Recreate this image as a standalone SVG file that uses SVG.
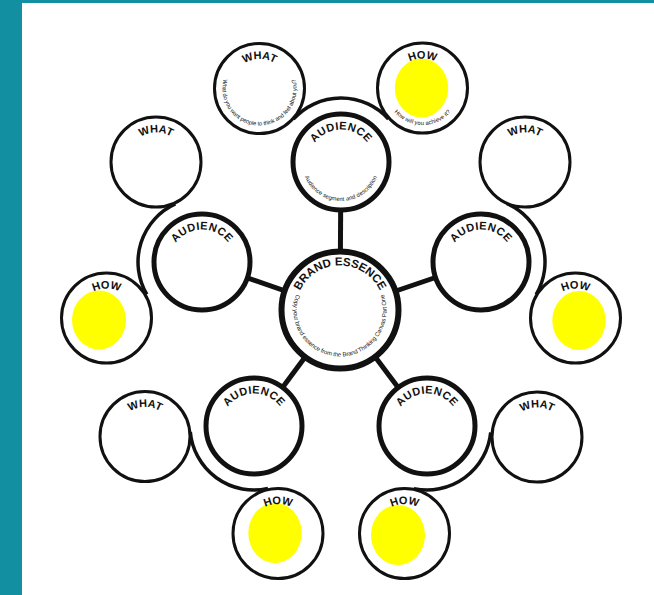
<svg xmlns="http://www.w3.org/2000/svg" width="654" height="595" viewBox="0 0 654 595">
<style>
.bg{fill:#ffffff}
.teal{fill:#128fa1}
.ring{fill:none;stroke:#111;stroke-width:3.5}
.conn{stroke:#111;stroke-width:5;stroke-linecap:butt}
.center{fill:#fff;stroke:#111;stroke-width:6}
.aud{fill:#fff;stroke:#111;stroke-width:5}
.sat{fill:#fff;stroke:#111;stroke-width:3}
.yel{fill:#ffff00}
.hd{font-family:"Liberation Sans",Arial,sans-serif;font-weight:bold;fill:#111}
.h11{font-size:11px}
.aud-h{font-size:11px;letter-spacing:0.5px}
.be-h{font-size:11.5px}
.sub{font-family:"Liberation Sans",Arial,sans-serif;fill:#111;font-size:5.8px}
</style>
<defs>
<path id="p-be-h" d="M340,354.5 A44.5,44.5 0 1 1 340,265.5 A44.5,44.5 0 1 1 340,354.5"/>
<path id="p-be-s" d="M340,263.5 A46.5,46.5 0 1 0 340,356.5 A46.5,46.5 0 1 0 340,263.5"/>
<path id="p-a1-h" d="M341,194.5 A32.5,32.5 0 1 1 341,129.5 A32.5,32.5 0 1 1 341,194.5"/>
<path id="p-a1-s" d="M341,123 A39,39 0 1 0 341,201 A39,39 0 1 0 341,123"/>
<path id="p-a2-h" d="M202,294.5 A32.5,32.5 0 1 1 202,229.5 A32.5,32.5 0 1 1 202,294.5"/>
<path id="p-a3-h" d="M481,294.5 A32.5,32.5 0 1 1 481,229.5 A32.5,32.5 0 1 1 481,294.5"/>
<path id="p-a4-h" d="M254,458.5 A32.5,32.5 0 1 1 254,393.5 A32.5,32.5 0 1 1 254,458.5"/>
<path id="p-a5-h" d="M427,458.5 A32.5,32.5 0 1 1 427,393.5 A32.5,32.5 0 1 1 427,458.5"/>
<path id="p-w1-h" d="M259.5,118 A29.5,29.5 0 1 1 259.5,59 A29.5,29.5 0 1 1 259.5,118"/>
<path id="p-w1-s" d="M259.5,51.5 A37,37 0 1 0 259.5,125.5 A37,37 0 1 0 259.5,51.5"/>
<path id="p-h1-h" d="M422.5,117.5 A29.5,29.5 0 1 1 422.5,58.5 A29.5,29.5 0 1 1 422.5,117.5"/>
<path id="p-h1-s" d="M422.5,51 A37,37 0 1 0 422.5,125 A37,37 0 1 0 422.5,51"/>
<path id="p-w2-h" d="M156,191.5 A29.5,29.5 0 1 1 156,132.5 A29.5,29.5 0 1 1 156,191.5"/>
<path id="p-h2-h" d="M106.5,347.5 A29.5,29.5 0 1 1 106.5,288.5 A29.5,29.5 0 1 1 106.5,347.5"/>
<path id="p-w3-h" d="M525,191.5 A29.5,29.5 0 1 1 525,132.5 A29.5,29.5 0 1 1 525,191.5"/>
<path id="p-h3-h" d="M575.5,347.5 A29.5,29.5 0 1 1 575.5,288.5 A29.5,29.5 0 1 1 575.5,347.5"/>
<path id="p-w4-h" d="M145,466 A29.5,29.5 0 1 1 145,407 A29.5,29.5 0 1 1 145,466"/>
<path id="p-h4-h" d="M278,563 A29.5,29.5 0 1 1 278,504 A29.5,29.5 0 1 1 278,563"/>
<path id="p-w5-h" d="M537,466.5 A29.5,29.5 0 1 1 537,407.5 A29.5,29.5 0 1 1 537,466.5"/>
<path id="p-h5-h" d="M404.5,563 A29.5,29.5 0 1 1 404.5,504 A29.5,29.5 0 1 1 404.5,563"/>
</defs>

<rect class="bg" x="0" y="0" width="654" height="595"/>
<rect class="teal" x="0" y="0" width="654" height="3"/>
<rect class="teal" x="0" y="0" width="22" height="595"/>

<g id="rings">
<path class="ring" d="M293.4,119.2 A64,64 0 0 1 388.4,119"/>
<path class="ring" d="M146.8,294.4 A64,64 0 0 1 175.3,203.9"/>
<path class="ring" d="M506.7,203.4 A64,64 0 0 1 536.1,294.6"/>
<path class="ring" d="M268,488.5 A64,64 0 0 1 190.3,431.8"/>
<path class="ring" d="M490.7,432.4 A64,64 0 0 1 413.9,488.6"/>
</g>

<g id="connectors">
<line class="conn" x1="340" y1="310" x2="341" y2="162"/>
<line class="conn" x1="340" y1="310" x2="202" y2="262"/>
<line class="conn" x1="340" y1="310" x2="481" y2="262"/>
<line class="conn" x1="340" y1="310" x2="254" y2="426"/>
<line class="conn" x1="340" y1="310" x2="427" y2="426"/>
</g>

<g id="brand-essence">
<circle class="center" cx="340" cy="310" r="58.5"/>
<text class="hd be-h"><textPath href="#p-be-h" startOffset="50%" text-anchor="middle">BRAND ESSENCE</textPath></text>
<text class="sub" style="font-size:6px"><textPath href="#p-be-s" startOffset="50%" text-anchor="middle" textLength="178" lengthAdjust="spacing">Copy your brand essence from the Brand Thinking Canvas Part One</textPath></text>
</g>

<g id="audience-top">
<circle class="aud" cx="341" cy="162" r="48"/>
<text class="hd aud-h"><textPath href="#p-a1-h" startOffset="50%" text-anchor="middle">AUDIENCE</textPath></text>
<text class="sub"><textPath href="#p-a1-s" startOffset="50%" text-anchor="middle" textLength="92" lengthAdjust="spacing">Audience segment and description</textPath></text>
</g>
<g id="what-top">
<circle class="sat" cx="259.5" cy="88.5" r="45"/>
<text class="hd h11"><textPath href="#p-w1-h" startOffset="50%" text-anchor="middle">WHAT</textPath></text>
<text class="sub"><textPath href="#p-w1-s" startOffset="50%" text-anchor="middle" textLength="135" lengthAdjust="spacing">What do you want people to think and feel about you?</textPath></text>
</g>
<g id="how-top">
<circle class="sat" cx="422.5" cy="88" r="45"/>
<ellipse class="yel" cx="421.5" cy="88" rx="26.7" ry="29.5"/>
<text class="hd h11"><textPath href="#p-h1-h" startOffset="50%" text-anchor="middle">HOW</textPath></text>
<text class="sub"><textPath href="#p-h1-s" startOffset="50%" text-anchor="middle" textLength="64" lengthAdjust="spacing">How will you achieve it?</textPath></text>
</g>

<g id="audience-left">
<circle class="aud" cx="202" cy="262" r="48"/>
<text class="hd aud-h"><textPath href="#p-a2-h" startOffset="50%" text-anchor="middle">AUDIENCE</textPath></text>
</g>
<g id="what-left">
<circle class="sat" cx="156" cy="162" r="45"/>
<text class="hd h11"><textPath href="#p-w2-h" startOffset="50%" text-anchor="middle">WHAT</textPath></text>
</g>
<g id="how-left">
<circle class="sat" cx="106.5" cy="318" r="45"/>
<ellipse class="yel" cx="99" cy="320" rx="27" ry="29.5"/>
<text class="hd h11"><textPath href="#p-h2-h" startOffset="50%" text-anchor="middle">HOW</textPath></text>
</g>

<g id="audience-right">
<circle class="aud" cx="481" cy="262" r="48"/>
<text class="hd aud-h"><textPath href="#p-a3-h" startOffset="50%" text-anchor="middle">AUDIENCE</textPath></text>
</g>
<g id="what-right">
<circle class="sat" cx="525" cy="162" r="45"/>
<text class="hd h11"><textPath href="#p-w3-h" startOffset="50%" text-anchor="middle">WHAT</textPath></text>
</g>
<g id="how-right">
<circle class="sat" cx="575.5" cy="318" r="45"/>
<ellipse class="yel" cx="579" cy="320.5" rx="26.7" ry="29.5"/>
<text class="hd h11"><textPath href="#p-h3-h" startOffset="50%" text-anchor="middle">HOW</textPath></text>
</g>

<g id="audience-lower-left">
<circle class="aud" cx="254" cy="426" r="48"/>
<text class="hd aud-h"><textPath href="#p-a4-h" startOffset="50%" text-anchor="middle">AUDIENCE</textPath></text>
</g>
<g id="what-lower-left">
<circle class="sat" cx="145" cy="436.5" r="45"/>
<text class="hd h11"><textPath href="#p-w4-h" startOffset="50%" text-anchor="middle">WHAT</textPath></text>
</g>
<g id="how-lower-left">
<circle class="sat" cx="278" cy="533.5" r="45"/>
<ellipse class="yel" cx="275" cy="533" rx="26.7" ry="30"/>
<text class="hd h11"><textPath href="#p-h4-h" startOffset="50%" text-anchor="middle">HOW</textPath></text>
</g>

<g id="audience-lower-right">
<circle class="aud" cx="427" cy="426" r="48"/>
<text class="hd aud-h"><textPath href="#p-a5-h" startOffset="50%" text-anchor="middle">AUDIENCE</textPath></text>
</g>
<g id="what-lower-right">
<circle class="sat" cx="537" cy="437" r="45"/>
<text class="hd h11"><textPath href="#p-w5-h" startOffset="50%" text-anchor="middle">WHAT</textPath></text>
</g>
<g id="how-lower-right">
<circle class="sat" cx="404.5" cy="533.5" r="45"/>
<ellipse class="yel" cx="398" cy="535" rx="27" ry="30"/>
<text class="hd h11"><textPath href="#p-h5-h" startOffset="50%" text-anchor="middle">HOW</textPath></text>
</g>
</svg>
